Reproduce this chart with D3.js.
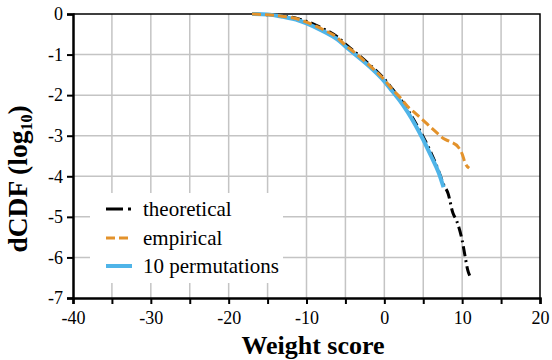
<!DOCTYPE html>
<html>
<head>
<meta charset="utf-8">
<script src="https://cdn.jsdelivr.net/npm/d3@7"></script>
<style>
  body { margin: 0; background: #fff; }
  svg text { font-family: "Liberation Serif", "Times New Roman", serif; }
</style>
</head>
<body>
<div id="chart"></div>
<script>
// Weight score (x) and log10 dCDF (y).
var theoX = [-17, -15, -13, -11, -10, -8, -6, -5, -4, -2, 0, 1, 2, 3, 4, 5, 6, 7, 7.6, 8.2, 8.8, 9.3, 10, 10.4, 10.7, 11.1];
var theoY = [0, -0.02, -0.05, -0.12, -0.18, -0.35, -0.57, -0.74, -0.9, -1.23, -1.6, -1.84, -2.08, -2.36, -2.68, -3.03, -3.42, -3.88, -4.2, -4.43, -4.9, -5.1, -5.58, -6.0, -6.3, -6.5];

var empX = [-17, -15, -13, -11, -10, -8, -6, -5, -4, -2, 0, 1, 2, 3, 4, 5, 6, 7, 7.6, 8.5, 9.5, 10, 10.4, 10.9];
var empY = [0, -0.02, -0.06, -0.13, -0.2, -0.37, -0.59, -0.77, -0.92, -1.25, -1.62, -1.85, -2.05, -2.28, -2.45, -2.62, -2.8, -2.97, -3.07, -3.15, -3.28, -3.45, -3.68, -3.8];

var permX = [-17, -15, -13, -11, -10, -8, -6, -5, -4, -2, 0, 1, 2, 3, 4, 5, 6, 7, 7.6];
var permY = [0, -0.01, -0.07, -0.16, -0.23, -0.41, -0.63, -0.8, -0.96, -1.28, -1.66, -1.9, -2.14, -2.42, -2.74, -3.1, -3.5, -3.92, -4.27];

var xTicks = [-40, -30, -20, -10, 0, 10, 20];
var yTicks = [0, -1, -2, -3, -4, -5, -6, -7];
var legendNames = ["theoretical", "empirical", "10 permutations"];

var width = 552, height = 360;
var m = { left: 73, right: 12, top: 14, bottom: 62 };
var serif = "Liberation Serif";

var svg = d3.select("#chart").append("svg")
    .attr("width", width)
    .attr("height", height);

var x = d3.scaleLinear().domain([-40, 20]).range([m.left, width - m.right]);
var y = d3.scaleLinear().domain([-7, 0]).range([height - m.bottom, m.top]);

// Grid
var grid = svg.append("g").attr("stroke", "#c4c4c4").attr("stroke-width", 1.5);
grid.selectAll(".gx").data(d3.range(-35, 20, 5)).enter().append("line")
    .attr("x1", d => x(d)).attr("x2", d => x(d))
    .attr("y1", y(0)).attr("y2", y(-7));
grid.selectAll(".gy").data(d3.range(-6, 0, 1)).enter().append("line")
    .attr("x1", x(-40)).attr("x2", x(20))
    .attr("y1", d => y(d)).attr("y2", d => y(d));

// Frame (top and right)
svg.append("path")
    .attr("d", "M" + x(-40) + "," + y(0) + "H" + x(20) + "V" + y(-7))
    .attr("fill", "none").attr("stroke", "#000").attr("stroke-width", 1.5);

// Curves
function pts(xs, ys) { return xs.map((v, i) => [v, ys[i]]); }
var line = d3.line().x(d => x(d[0])).y(d => y(d[1])).curve(d3.curveMonotoneX);

svg.append("path").datum(pts(theoX, theoY))
    .attr("d", line).attr("fill", "none")
    .attr("stroke", "#000").attr("stroke-width", 3)
    .attr("stroke-dasharray", "10,4,2,4");

svg.append("path").datum(pts(permX, permY))
    .attr("d", line).attr("fill", "none")
    .attr("stroke", "#4fb4e8").attr("stroke-width", 4);

svg.append("path").datum(pts(empX, empY))
    .attr("d", line).attr("fill", "none")
    .attr("stroke", "#e3922b").attr("stroke-width", 3)
    .attr("stroke-dasharray", "9,4");

// Axes
var xAxis = d3.axisBottom(x).tickValues(d3.range(-40, 25, 5)).tickSize(6)
    .tickFormat(d => xTicks.includes(d) ? d : "");
var gx = svg.append("g").attr("transform", "translate(0," + y(-7) + ")").call(xAxis)
    .attr("font-family", serif);
gx.select(".domain").attr("stroke-width", 2.5);
gx.selectAll(".tick line").attr("stroke-width", 2);
gx.selectAll("text").attr("font-size", 18).attr("fill", "#000").attr("dy", "0.95em");

var yAxis = d3.axisLeft(y).tickValues(yTicks).tickSize(6).tickFormat(d => d);
var gy = svg.append("g").attr("transform", "translate(" + x(-40) + ",0)").call(yAxis)
    .attr("font-family", serif);
gy.select(".domain").attr("stroke-width", 2.5);
gy.selectAll(".tick line").attr("stroke-width", 2);
gy.selectAll("text").attr("font-size", 18).attr("fill", "#000").attr("x", -10);

// Axis titles
svg.append("text")
    .attr("x", 313).attr("y", 354)
    .attr("text-anchor", "middle")
    .attr("font-family", serif)
    .attr("font-size", 26).attr("font-weight", "bold")
    .text("Weight score");

var yt = svg.append("text")
    .attr("transform", "translate(27,179) rotate(-90)")
    .attr("text-anchor", "middle")
    .attr("font-family", serif)
    .attr("font-size", 27.5).attr("font-weight", "bold");
yt.append("tspan").text("dCDF (log");
yt.append("tspan").attr("font-size", 16).attr("dy", 5).text("10");
yt.append("tspan").attr("dy", -5).text(")");

// Legend
var lg = svg.append("g");
lg.append("rect").attr("x", 90).attr("y", 193).attr("width", 193).attr("height", 90).attr("fill", "#fff");
var styles = [
    { stroke: "#000", dash: "17,5,3,5", w: 3 },
    { stroke: "#e3922b", dash: "9,4", w: 3 },
    { stroke: "#4fb4e8", dash: null, w: 4 }
];
var rows = lg.selectAll(".row").data(legendNames).enter().append("g")
    .attr("transform", (d, i) => "translate(0," + [209, 238, 266][i] + ")");
rows.append("line")
    .attr("x1", 106).attr("x2", 132)
    .attr("stroke", (d, i) => styles[i].stroke)
    .attr("stroke-width", (d, i) => styles[i].w)
    .attr("stroke-dasharray", (d, i) => styles[i].dash);
rows.append("text")
    .attr("x", 143).attr("y", 7)
    .attr("font-family", serif)
    .attr("font-size", 21)
    .text(d => d);
</script>
</body>
</html>
